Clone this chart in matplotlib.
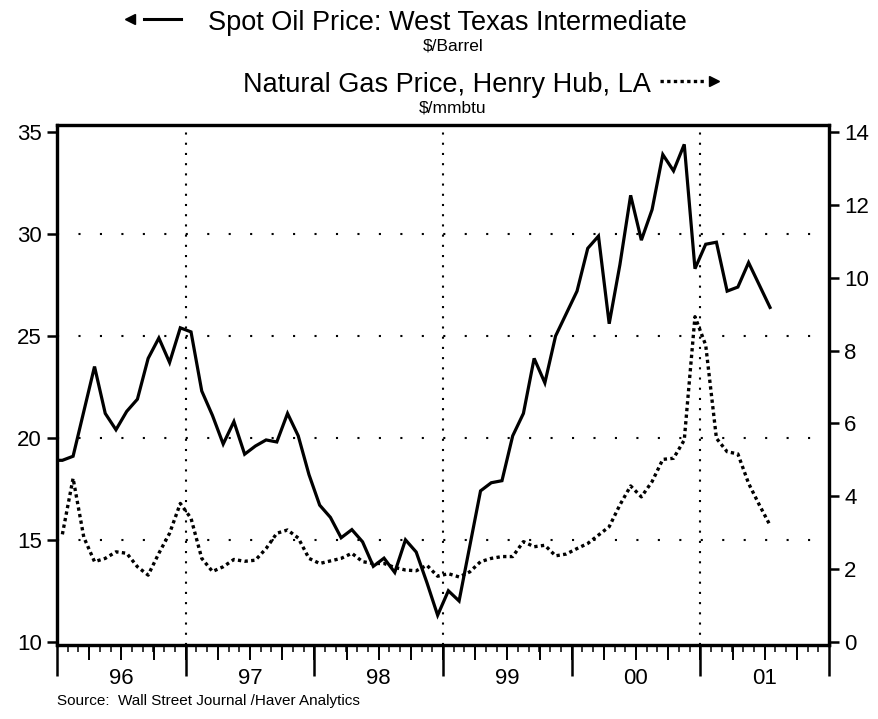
import numpy as np
import pandas as pd
import matplotlib
matplotlib.use("Agg")
import matplotlib.pyplot as plt
from matplotlib.lines import Line2D

plt.rcParams['font.family'] = ['Liberation Sans', 'DejaVu Sans']

# monthly averages, Dec 1995 .. Jul 2001 (Dec 95 only to start the oil line at the axis)
months = pd.date_range('1995-12-01', '2001-07-01', freq='MS')

oil = [18.9,
       18.9, 19.1, 21.3, 23.5, 21.2, 20.4, 21.3, 21.9, 23.9, 24.9, 23.7, 25.4,
       25.2, 22.3, 21.1, 19.7, 20.8, 19.2, 19.6, 19.9, 19.8, 21.2, 20.1, 18.2,
       16.7, 16.1, 15.1, 15.5, 14.9, 13.7, 14.1, 13.4, 15.0, 14.4, 12.9, 11.3,
       12.5, 12.0, 14.7, 17.4, 17.8, 17.9, 20.1, 21.2, 23.9, 22.7, 25.0, 26.1,
       27.2, 29.3, 29.9, 25.6, 28.5, 31.9, 29.7, 31.2, 33.9, 33.1, 34.4, 28.3,
       29.5, 29.6, 27.2, 27.4, 28.6, 27.5, 26.4]

gas = [np.nan,
       2.95, 4.49, 2.87, 2.20, 2.29, 2.47, 2.43, 2.06, 1.83, 2.43, 2.98, 3.80,
       3.39, 2.29, 1.93, 2.06, 2.26, 2.21, 2.24, 2.56, 2.98, 3.07, 2.85, 2.29,
       2.15, 2.22, 2.29, 2.43, 2.20, 2.15, 2.15, 2.04, 1.97, 1.95, 2.10, 1.80,
       1.87, 1.78, 1.92, 2.20, 2.29, 2.34, 2.34, 2.75, 2.61, 2.65, 2.36, 2.41,
       2.56, 2.70, 2.93, 3.16, 3.76, 4.28, 3.98, 4.40, 5.01, 5.04, 5.54, 8.93,
       8.15, 5.59, 5.22, 5.16, 4.35, 3.76, 3.20]

years = [1996, 1997, 1998, 1999, 2000, 2001]
year_labels = ['96', '97', '98', '99', '00', '01']
oil_ticks = [10, 15, 20, 25, 30, 35]
gas_ticks = [0, 2, 4, 6, 8, 10, 12, 14]

x = months.year + (months.month - 0.5) / 12.0

fig = plt.figure(figsize=(8.79, 7.19), dpi=100)
ax = fig.add_axes([57 / 879, 1 - 645 / 719, 772 / 879, 520 / 719])
ax2 = ax.twinx()

oil_lim = (9.84, 35.35)
ax.set_ylim(oil_lim)
ax2.set_ylim((oil_lim[0] - 10) * 0.56, (oil_lim[1] - 10) * 0.56)
ax.set_xlim(1996, 2002)

# dotted grid
for v in [15, 20, 25, 30]:
    ax.axhline(v, color='black', lw=1.5, linestyle=(0, (1, 9.3)), zorder=1)
for v in [1997, 1999, 2001]:
    ax.axvline(v, color='black', lw=1.5, linestyle=(0, (1, 3.9)), zorder=1)

ax.plot(x, oil, color='black', lw=2.3, solid_joinstyle='miter', zorder=3)
ax2.plot(x, gas, color='black', lw=2.4, linestyle=(0, (1, 1.0)), zorder=3)

for a in (ax, ax2):
    for s in a.spines.values():
        s.set_linewidth(2.3)

ax.set_yticks(oil_ticks)
ax.tick_params(axis='y', direction='out', length=7, width=1.8, labelsize=16, pad=4)
ax2.set_yticks(gas_ticks)
ax2.tick_params(axis='y', direction='out', length=7, width=1.8, labelsize=16, pad=4)

ax.set_xticks(years + [2002])
ax.set_xticks(np.arange(1996, 2002, 1 / 12), minor=True)
ax.tick_params(axis='x', which='major', direction='out', length=22, width=1.8, labelbottom=False)
ax.tick_params(axis='x', which='minor', direction='out', length=5, width=1.1)

sec = ax.secondary_xaxis('bottom')
sec.set_xticks(np.arange(1996.25, 2002, 0.25))
sec.tick_params(axis='x', direction='out', length=11, width=1.4, labelbottom=False)
sec.spines['bottom'].set_visible(False)

for y, lab in zip(years, year_labels):
    ax.text(y + 0.5, -0.064, lab, transform=ax.get_xaxis_transform(),
            ha='center', va='center', fontsize=16)

# header with legend keys
t1 = fig.text(0.509, 1 - 30 / 719, 'Spot Oil Price: West Texas Intermediate',
              ha='center', va='baseline', fontsize=19.5)
fig.text(0.515, 1 - 50 / 719, '$/Barrel', ha='center', va='baseline', fontsize=12.5)
t2 = fig.text(0.508, 1 - 92 / 719, 'Natural Gas Price, Henry Hub, LA',
              ha='center', va='baseline', fontsize=19.5)
fig.text(0.515, 1 - 113 / 719, '$/mmbtu', ha='center', va='baseline', fontsize=12.5)

fig.canvas.draw()
r = fig.canvas.get_renderer()
b1 = t1.get_window_extent(r)
b2 = t2.get_window_extent(r)
W, H = fig.bbox.width, fig.bbox.height

y1 = 1 - 19 / 719
fig.add_artist(Line2D([(b1.x0 - 64) / W, (b1.x0 - 27) / W], [y1, y1],
                      color='black', lw=2.2, transform=fig.transFigure))
fig.add_artist(Line2D([(b1.x0 - 78) / W], [y1], marker='<', markersize=7,
                      color='black', transform=fig.transFigure))

y2 = 1 - 81 / 719
fig.add_artist(Line2D([(b2.x1 + 10) / W, (b2.x1 + 56) / W], [y2, y2],
                      color='black', lw=2.4, linestyle=(0, (1, 1.0)),
                      transform=fig.transFigure))
fig.add_artist(Line2D([(b2.x1 + 64) / W], [y2], marker='>', markersize=7,
                      color='black', transform=fig.transFigure))

fig.text(57 / 879, 1 - 705 / 719, 'Source:  Wall Street Journal /Haver Analytics',
         ha='left', va='baseline', fontsize=11)

fig.savefig('out.png', dpi=100)
